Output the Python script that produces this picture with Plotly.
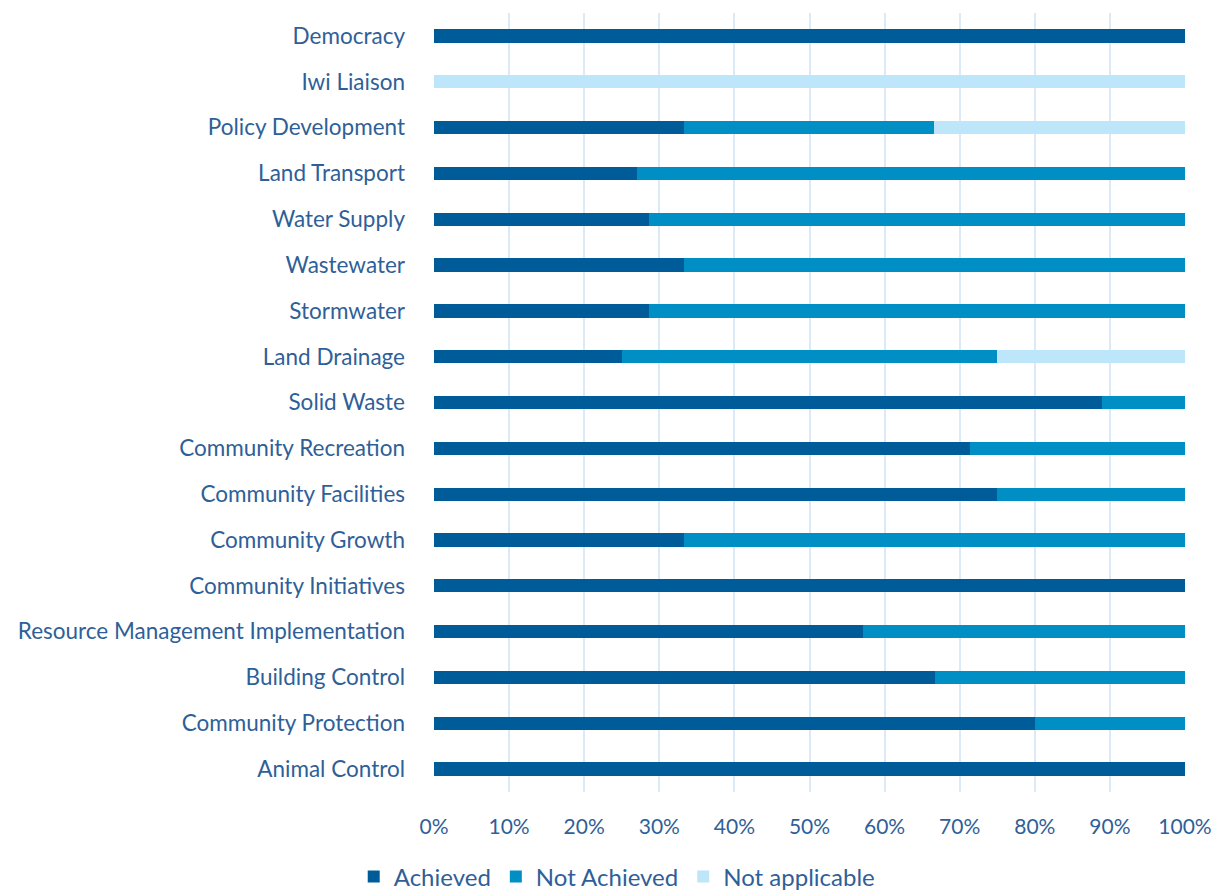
import plotly.graph_objects as go

categories = [
    "Democracy", "Iwi Liaison", "Policy Development", "Land Transport",
    "Water Supply", "Wastewater", "Stormwater", "Land Drainage",
    "Solid Waste", "Community Recreation", "Community Facilities",
    "Community Growth", "Community Initiatives",
    "Resource Management Implementation", "Building Control",
    "Community Protection", "Animal Control",
]
achieved = [100, 0, 33.3, 27.0, 28.6, 33.3, 28.6, 25.0, 88.9, 71.4, 75.0,
            33.3, 100, 57.1, 66.7, 80.0, 100]
not_achieved = [0, 0, 33.3, 73.0, 71.4, 66.7, 71.4, 50.0, 11.1, 28.6, 25.0,
                66.7, 0, 42.9, 33.3, 20.0, 0]
not_applicable = [0, 100, 33.4, 0, 0, 0, 0, 25.0, 0, 0, 0, 0, 0, 0, 0, 0, 0]
x_ticks = list(range(0, 101, 10))
x_tick_labels = [f"{v}%" for v in x_ticks]

series = [
    ("Achieved", achieved, "#005C99"),
    ("Not Achieved", not_achieved, "#008FC5"),
    ("Not applicable", not_applicable, "#BEE6FA"),
]

text_color = "#2F5F98"
fig = go.Figure()
for name, vals, color in series:
    fig.add_trace(go.Bar(
        y=categories, x=vals, name=name, orientation="h",
        marker=dict(color=color, line=dict(width=0)),
        width=0.29,
    ))

fig.update_layout(
    barmode="stack",
    width=1215, height=891,
    margin=dict(l=434, r=30, t=13, b=99, autoexpand=False),
    paper_bgcolor="white", plot_bgcolor="white",
    font=dict(family="Lato", size=22.5, color=text_color),
    legend=dict(orientation="h", xref="container", x=0.508, xanchor="center",
                y=-0.109, yanchor="middle", font=dict(size=24),
                traceorder="normal", itemwidth=30),
    showlegend=True,
)
fig.update_xaxes(
    range=[0, 100], tickvals=x_ticks, ticktext=x_tick_labels,
    showgrid=True, gridcolor="#DCE9F7", gridwidth=2,
    zeroline=False, showline=False, ticks="", ticklabelstandoff=20,
    tickfont=dict(size=21), automargin=False,
)
fig.update_yaxes(
    categoryorder="array", categoryarray=categories[::-1],
    showgrid=False, zeroline=False, ticks="", ticklabelstandoff=28,
    automargin=False,
)

fig.write_html("out.html")
